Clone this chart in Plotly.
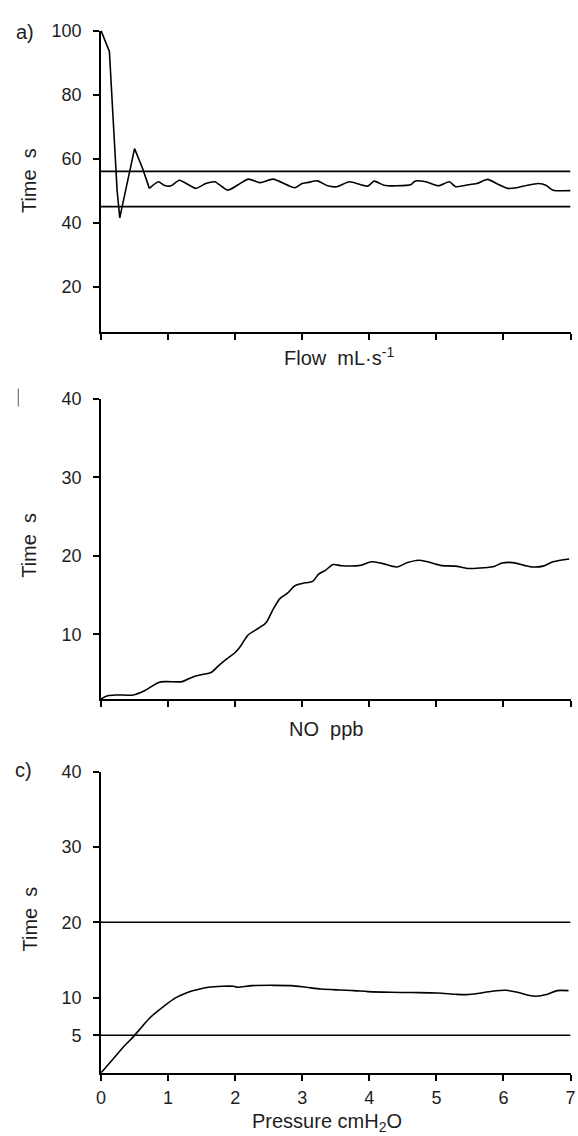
import plotly.graph_objects as go

# a) Flow panel
flow_x = [0, 0.125, 0.24, 0.265, 0.28, 0.30, 0.50, 0.62, 0.721, 0.857, 0.938, 1.046, 1.166,
          1.415, 1.562, 1.697, 1.887, 2.050, 2.196, 2.375, 2.565, 2.890, 2.998, 3.080, 3.226,
          3.378, 3.514, 3.703, 3.974, 4.072, 4.218, 4.408, 4.625, 4.679, 4.842, 5.032, 5.194,
          5.287, 5.438, 5.601, 5.764, 5.926, 6.062, 6.198, 6.360, 6.523, 6.631, 6.740, 7.0]
flow_t = [100, 93.5, 50, 43.5, 41.5, 43.5, 63.1, 56.9, 50.7, 52.75, 51.7, 51.5, 53.25,
          50.7, 52.2, 52.75, 50.15, 51.9, 53.6, 52.5, 53.6, 50.9, 52.2, 52.5, 53.05,
          51.5, 51.2, 52.75, 51.4, 52.95, 51.7, 51.5, 51.9, 52.95, 52.75, 51.5, 52.75,
          51.2, 51.7, 52.2, 53.5, 51.9, 50.7, 50.9, 51.7, 52.2, 51.7, 50.15, 50.0]
flow_limits = [56.0, 45.0]

# b) NO panel
no_x = [0, 0.10, 0.23, 0.48, 0.64, 0.86, 0.97, 1.21, 1.37, 1.51, 1.64, 1.75, 1.86, 2.0,
        2.08, 2.19, 2.35, 2.46, 2.56, 2.67, 2.78, 2.89, 3.0, 3.16, 3.24, 3.35, 3.46, 3.59,
        3.87, 4.03, 4.19, 4.41, 4.57, 4.73, 4.87, 5.06, 5.28, 5.49, 5.71, 5.87, 5.98, 6.14,
        6.31, 6.44, 6.59, 6.74, 6.98]
no_t = [1.8, 2.2, 2.3, 2.3, 2.8, 3.9, 4.0, 4.0, 4.6, 4.9, 5.15, 6.0, 6.8, 7.7,
        8.5, 9.9, 10.8, 11.5, 13.1, 14.6, 15.25, 16.2, 16.5, 16.8, 17.65, 18.2, 18.9, 18.75,
        18.8, 19.25, 19.05, 18.6, 19.15, 19.45, 19.25, 18.8, 18.7, 18.4, 18.5, 18.7, 19.1, 19.15,
        18.8, 18.6, 18.7, 19.25, 19.6]

# c) Pressure panel
pressure = [0, 0.18, 0.35, 0.48, 0.62, 0.73, 0.94, 1.11, 1.27, 1.38, 1.60, 1.81, 1.98, 2.03,
            2.25, 2.57, 2.84, 3.06, 3.28, 3.55, 3.77, 3.98, 4.31, 4.63, 5.01, 5.29, 5.45, 5.61,
            5.83, 6.04, 6.21, 6.37, 6.48, 6.64, 6.80, 6.97]
pressure_t = [0, 1.84, 3.6, 4.78, 6.22, 7.32, 8.86, 9.95, 10.61, 10.92, 11.36, 11.49, 11.49, 11.36,
              11.58, 11.62, 11.58, 11.36, 11.13, 11.0, 10.92, 10.79, 10.7, 10.66, 10.61, 10.43, 10.39, 10.53,
              10.83, 10.96, 10.7, 10.3, 10.17, 10.39, 10.92, 10.92]
pressure_limits = [20, 5]

x_ticks = [0, 1, 2, 3, 4, 5, 6, 7]
x_tick_labels = ["0", "1", "2", "3", "4", "5", "6", "7"]

W, H = 578, 1136
FONT = "Liberation Sans, Arial, sans-serif"
INK = "#1e1e1e"


def py(p):
    # pixel row -> paper y
    return 1 - p / H


def px(p):
    return p / W


line = dict(color="black", width=1.6)
fig = go.Figure()

# sharp initial swing drawn straight, the settled part smoothed
k = 9
fig.add_trace(go.Scatter(x=flow_x[:k], y=flow_t[:k], mode="lines", line=line, xaxis="x", yaxis="y"))
fig.add_trace(go.Scatter(x=flow_x[k - 1:], y=flow_t[k - 1:], mode="lines",
                         line=dict(line, shape="spline", smoothing=0.6), xaxis="x", yaxis="y"))
for v in flow_limits:
    fig.add_trace(go.Scatter(x=[0, 7], y=[v, v], mode="lines", line=line, xaxis="x", yaxis="y"))

fig.add_trace(go.Scatter(x=no_x, y=no_t, mode="lines", line=dict(line, shape="spline", smoothing=0.8),
                         xaxis="x2", yaxis="y2"))

fig.add_trace(go.Scatter(x=pressure, y=pressure_t, mode="lines", line=dict(line, shape="spline", smoothing=0.8),
                         xaxis="x3", yaxis="y3"))
for v in pressure_limits:
    fig.add_trace(go.Scatter(x=[0, 7], y=[v, v], mode="lines", line=line, xaxis="x3", yaxis="y3"))

axis_common = dict(showline=True, linecolor="black", linewidth=1.6, ticks="outside", ticklen=6,
                   tickwidth=1.5, tickcolor="black", showgrid=False, zeroline=False,
                   tickfont=dict(family=FONT, size=18, color=INK))
x_dom = [px(97.7), px(575.5)]

fig.update_layout(
    width=W, height=H, showlegend=False,
    paper_bgcolor="white", plot_bgcolor="white",
    margin=dict(l=0, r=0, t=0, b=0),
    xaxis=dict(axis_common, domain=x_dom, range=[0, 7], tickvals=x_ticks, showticklabels=False, anchor="y"),
    yaxis=dict(axis_common, domain=[py(325), py(20.7)], range=[5.8, 100], tickvals=[20, 40, 60, 80, 100],
               anchor="x", ticklabelstandoff=8),
    xaxis2=dict(axis_common, domain=x_dom, range=[0, 7], tickvals=x_ticks, showticklabels=False, anchor="y2"),
    yaxis2=dict(axis_common, domain=[py(695), py(392.3)], range=[1.8, 40], tickvals=[10, 20, 30, 40],
                anchor="x2", ticklabelstandoff=8),
    xaxis3=dict(axis_common, domain=x_dom, range=[0, 7], tickvals=x_ticks, ticktext=x_tick_labels,
                anchor="y3", ticklabelstandoff=2, ticklabeloverflow="allow"),
    yaxis3=dict(axis_common, domain=[py(1072.3), py(768.3)], range=[0, 40], tickvals=[5, 10, 20, 30, 40],
                anchor="x3", ticklabelstandoff=8),
)

nb = "\u00a0"
notes = [
    ("a)", 20, 22, 0),
    ("c)", 19, 767, 0),
    ("Time" + nb + nb + "s", 25, 172, -90),
    ("Time" + nb + nb + "s", 25, 540, -90),
    ("Time" + nb + nb + "s", 25, 917, -90),
    ("Flow" + nb + nb + "mL·s<sup>-1</sup>", 340, 350, 0),
    ("NO" + nb + nb + "ppb", 327, 725, 0),
    ("Pressure cmH<sub>2</sub>O", 328, 1122, 0),
]
for text, x, y, ang in notes:
    fig.add_annotation(text=text, x=px(x), y=py(y), xref="paper", yref="paper", showarrow=False,
                       xanchor="center", yanchor="middle", textangle=ang,
                       font=dict(family=FONT, size=20, color=INK))

# remnant of the cropped "b)" label
fig.add_shape(type="line", xref="paper", yref="paper", x0=px(13.5), x1=px(13.5), y0=py(382), y1=py(400),
              line=dict(color="#555", width=1))

# page without the default body margin so the figure fills the window exactly
fig.write_html("out.html", config={"displayModeBar": False},
               post_script="document.body.style.margin='0';document.body.style.overflow='hidden';")
